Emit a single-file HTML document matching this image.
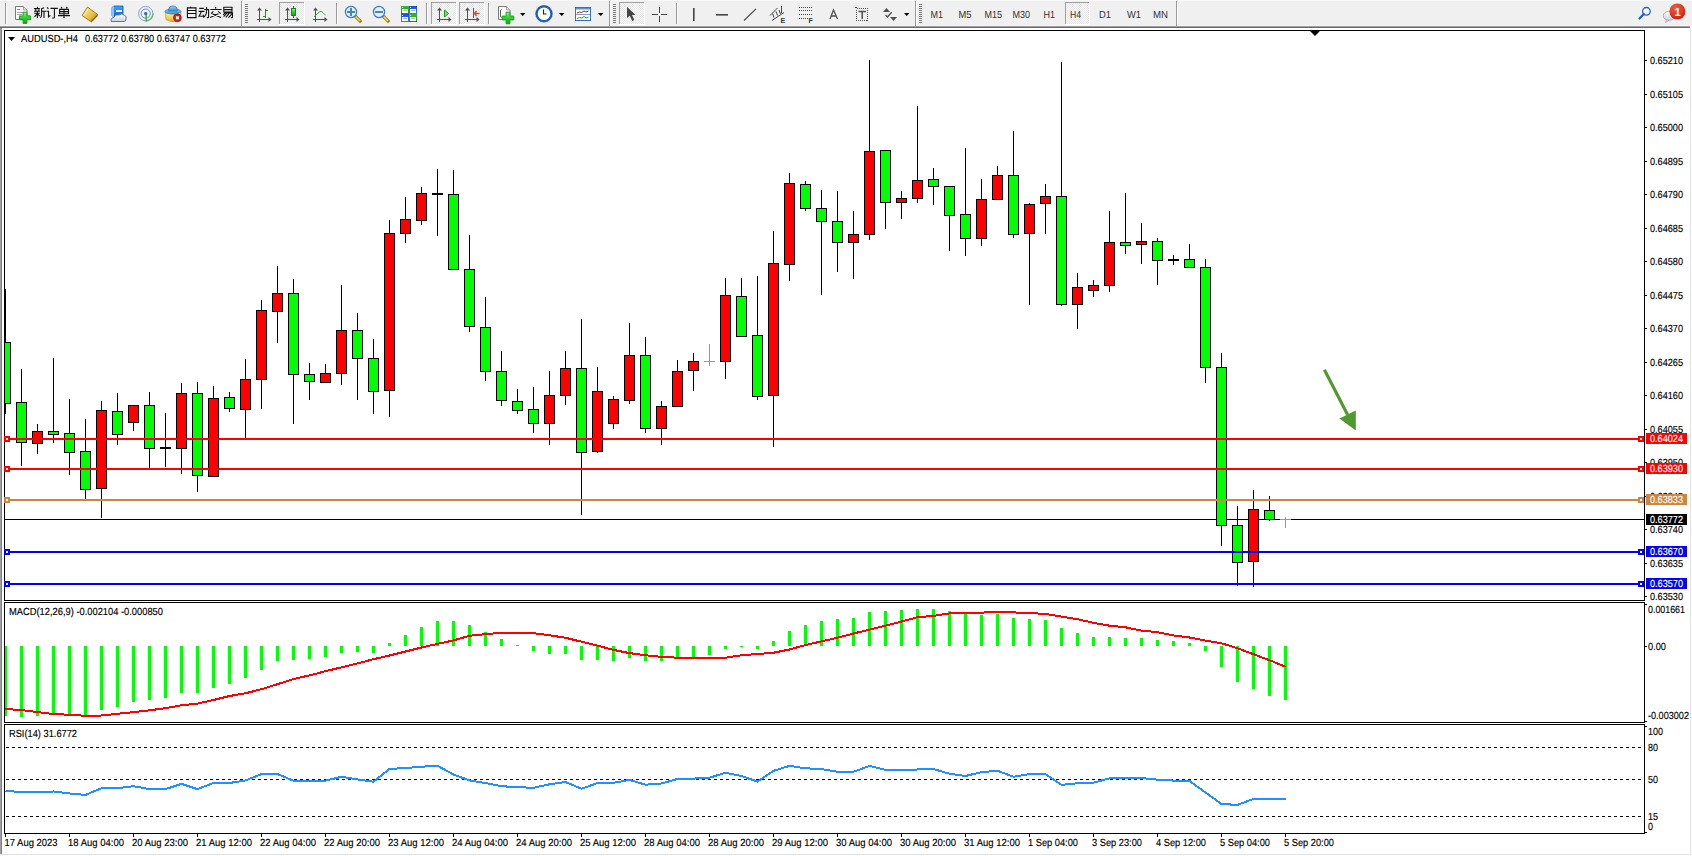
<!DOCTYPE html>
<html><head><meta charset="utf-8"><title>MT4 AUDUSD H4</title>
<style>
html,body{margin:0;padding:0;background:#fff;}
body{width:1692px;height:856px;position:relative;overflow:hidden;font-family:"Liberation Sans", sans-serif;}
svg text{font-family:"Liberation Sans", sans-serif;}
</style></head><body>
<svg width="1692" height="856" viewBox="0 0 1692 856" style="position:absolute;left:0;top:0">
<defs><clipPath id="cm"><rect x="5" y="31" width="1639" height="569"/></clipPath><clipPath id="cmacd"><rect x="5" y="603" width="1639" height="119"/></clipPath><clipPath id="crsi"><rect x="5" y="725" width="1639" height="108"/></clipPath></defs>
<rect x="0" y="0" width="1692" height="856" fill="#ffffff"/>
<rect x="0" y="0" width="1692" height="26" fill="#f0f0f0"/>
<rect x="0" y="0" width="1692" height="1" fill="#f8f8f8"/>
<rect x="0" y="25" width="1692" height="1" fill="#f4f4f4"/>
<rect x="0" y="26" width="1690" height="1" fill="#a0a0a0"/>
<rect x="0" y="27" width="1690" height="1" fill="#696969"/>
<rect x="0" y="28" width="1" height="826" fill="#a0a0a0"/>
<rect x="1" y="28" width="1" height="826" fill="#808080"/>
<rect x="1690" y="28" width="1" height="827" fill="#e3e3e3"/>
<rect x="0" y="854" width="1691" height="1" fill="#e3e3e3"/>
<g shape-rendering="crispEdges">
<rect x="4.5" y="30.5" width="1640" height="570" fill="none" stroke="#000" stroke-width="1"/>
<rect x="4.5" y="602.5" width="1640" height="120" fill="none" stroke="#000" stroke-width="1"/>
<rect x="4.5" y="724.5" width="1640" height="109" fill="none" stroke="#000" stroke-width="1"/>
<g clip-path="url(#cm)">
<rect x="5" y="519" width="1639" height="1" fill="#000"/>
<rect x="5" y="289" width="1" height="125" fill="#000"/>
<rect x="0" y="342" width="11" height="62" fill="#000"/>
<rect x="1" y="343" width="9" height="60" fill="#00ff00"/>
<rect x="21" y="369" width="1" height="97" fill="#000"/>
<rect x="16" y="402" width="11" height="41" fill="#000"/>
<rect x="17" y="403" width="9" height="39" fill="#00ff00"/>
<rect x="37" y="424" width="1" height="30" fill="#000"/>
<rect x="32" y="431" width="11" height="13" fill="#000"/>
<rect x="33" y="432" width="9" height="11" fill="#ff0000"/>
<rect x="53" y="358" width="1" height="85" fill="#000"/>
<rect x="48" y="431" width="11" height="4" fill="#000"/>
<rect x="49" y="432" width="9" height="2" fill="#00ff00"/>
<rect x="69" y="399" width="1" height="76" fill="#000"/>
<rect x="64" y="433" width="11" height="20" fill="#000"/>
<rect x="65" y="434" width="9" height="18" fill="#00ff00"/>
<rect x="85" y="419" width="1" height="80" fill="#000"/>
<rect x="80" y="451" width="11" height="39" fill="#000"/>
<rect x="81" y="452" width="9" height="37" fill="#00ff00"/>
<rect x="101" y="401" width="1" height="117" fill="#000"/>
<rect x="96" y="410" width="11" height="79" fill="#000"/>
<rect x="97" y="411" width="9" height="77" fill="#ff0000"/>
<rect x="117" y="393" width="1" height="52" fill="#000"/>
<rect x="112" y="411" width="11" height="24" fill="#000"/>
<rect x="113" y="412" width="9" height="22" fill="#00ff00"/>
<rect x="133" y="405" width="1" height="26" fill="#000"/>
<rect x="128" y="405" width="11" height="18" fill="#000"/>
<rect x="129" y="406" width="9" height="16" fill="#ff0000"/>
<rect x="149" y="392" width="1" height="76" fill="#000"/>
<rect x="144" y="405" width="11" height="44" fill="#000"/>
<rect x="145" y="406" width="9" height="42" fill="#00ff00"/>
<rect x="165" y="413" width="1" height="54" fill="#000"/>
<rect x="160" y="447" width="11" height="2" fill="#000"/>
<rect x="181" y="383" width="1" height="91" fill="#000"/>
<rect x="176" y="393" width="11" height="56" fill="#000"/>
<rect x="177" y="394" width="9" height="54" fill="#ff0000"/>
<rect x="197" y="382" width="1" height="110" fill="#000"/>
<rect x="192" y="393" width="11" height="83" fill="#000"/>
<rect x="193" y="394" width="9" height="81" fill="#00ff00"/>
<rect x="213" y="386" width="1" height="91" fill="#000"/>
<rect x="208" y="398" width="11" height="79" fill="#000"/>
<rect x="209" y="399" width="9" height="77" fill="#ff0000"/>
<rect x="229" y="392" width="1" height="20" fill="#000"/>
<rect x="224" y="397" width="11" height="12" fill="#000"/>
<rect x="225" y="398" width="9" height="10" fill="#00ff00"/>
<rect x="245" y="359" width="1" height="79" fill="#000"/>
<rect x="240" y="379" width="11" height="31" fill="#000"/>
<rect x="241" y="380" width="9" height="29" fill="#ff0000"/>
<rect x="261" y="300" width="1" height="109" fill="#000"/>
<rect x="256" y="310" width="11" height="70" fill="#000"/>
<rect x="257" y="311" width="9" height="68" fill="#ff0000"/>
<rect x="277" y="266" width="1" height="77" fill="#000"/>
<rect x="272" y="293" width="11" height="19" fill="#000"/>
<rect x="273" y="294" width="9" height="17" fill="#ff0000"/>
<rect x="293" y="279" width="1" height="145" fill="#000"/>
<rect x="288" y="293" width="11" height="82" fill="#000"/>
<rect x="289" y="294" width="9" height="80" fill="#00ff00"/>
<rect x="309" y="363" width="1" height="37" fill="#000"/>
<rect x="304" y="374" width="11" height="8" fill="#000"/>
<rect x="305" y="375" width="9" height="6" fill="#00ff00"/>
<rect x="325" y="364" width="1" height="19" fill="#000"/>
<rect x="320" y="373" width="11" height="10" fill="#000"/>
<rect x="321" y="374" width="9" height="8" fill="#ff0000"/>
<rect x="341" y="285" width="1" height="100" fill="#000"/>
<rect x="336" y="330" width="11" height="44" fill="#000"/>
<rect x="337" y="331" width="9" height="42" fill="#ff0000"/>
<rect x="357" y="313" width="1" height="87" fill="#000"/>
<rect x="352" y="330" width="11" height="29" fill="#000"/>
<rect x="353" y="331" width="9" height="27" fill="#00ff00"/>
<rect x="373" y="339" width="1" height="75" fill="#000"/>
<rect x="368" y="358" width="11" height="34" fill="#000"/>
<rect x="369" y="359" width="9" height="32" fill="#00ff00"/>
<rect x="389" y="220" width="1" height="197" fill="#000"/>
<rect x="384" y="233" width="11" height="158" fill="#000"/>
<rect x="385" y="234" width="9" height="156" fill="#ff0000"/>
<rect x="405" y="197" width="1" height="46" fill="#000"/>
<rect x="400" y="219" width="11" height="15" fill="#000"/>
<rect x="401" y="220" width="9" height="13" fill="#ff0000"/>
<rect x="421" y="187" width="1" height="38" fill="#000"/>
<rect x="416" y="193" width="11" height="28" fill="#000"/>
<rect x="417" y="194" width="9" height="26" fill="#ff0000"/>
<rect x="437" y="169" width="1" height="67" fill="#000"/>
<rect x="432" y="193" width="11" height="2" fill="#000"/>
<rect x="453" y="170" width="1" height="100" fill="#000"/>
<rect x="448" y="194" width="11" height="76" fill="#000"/>
<rect x="449" y="195" width="9" height="74" fill="#00ff00"/>
<rect x="469" y="235" width="1" height="97" fill="#000"/>
<rect x="464" y="269" width="11" height="58" fill="#000"/>
<rect x="465" y="270" width="9" height="56" fill="#00ff00"/>
<rect x="485" y="297" width="1" height="84" fill="#000"/>
<rect x="480" y="327" width="11" height="45" fill="#000"/>
<rect x="481" y="328" width="9" height="43" fill="#00ff00"/>
<rect x="501" y="351" width="1" height="55" fill="#000"/>
<rect x="496" y="371" width="11" height="30" fill="#000"/>
<rect x="497" y="372" width="9" height="28" fill="#00ff00"/>
<rect x="517" y="389" width="1" height="25" fill="#000"/>
<rect x="512" y="401" width="11" height="10" fill="#000"/>
<rect x="513" y="402" width="9" height="8" fill="#00ff00"/>
<rect x="533" y="387" width="1" height="46" fill="#000"/>
<rect x="528" y="409" width="11" height="15" fill="#000"/>
<rect x="529" y="410" width="9" height="13" fill="#00ff00"/>
<rect x="549" y="371" width="1" height="74" fill="#000"/>
<rect x="544" y="395" width="11" height="29" fill="#000"/>
<rect x="545" y="396" width="9" height="27" fill="#ff0000"/>
<rect x="565" y="351" width="1" height="54" fill="#000"/>
<rect x="560" y="368" width="11" height="28" fill="#000"/>
<rect x="561" y="369" width="9" height="26" fill="#ff0000"/>
<rect x="581" y="319" width="1" height="196" fill="#000"/>
<rect x="576" y="368" width="11" height="85" fill="#000"/>
<rect x="577" y="369" width="9" height="83" fill="#00ff00"/>
<rect x="597" y="367" width="1" height="86" fill="#000"/>
<rect x="592" y="391" width="11" height="61" fill="#000"/>
<rect x="593" y="392" width="9" height="59" fill="#ff0000"/>
<rect x="613" y="396" width="1" height="33" fill="#000"/>
<rect x="608" y="399" width="11" height="25" fill="#000"/>
<rect x="609" y="400" width="9" height="23" fill="#ff0000"/>
<rect x="629" y="323" width="1" height="81" fill="#000"/>
<rect x="624" y="355" width="11" height="46" fill="#000"/>
<rect x="625" y="356" width="9" height="44" fill="#ff0000"/>
<rect x="645" y="337" width="1" height="96" fill="#000"/>
<rect x="640" y="355" width="11" height="74" fill="#000"/>
<rect x="641" y="356" width="9" height="72" fill="#00ff00"/>
<rect x="661" y="401" width="1" height="44" fill="#000"/>
<rect x="656" y="406" width="11" height="23" fill="#000"/>
<rect x="657" y="407" width="9" height="21" fill="#ff0000"/>
<rect x="677" y="360" width="1" height="47" fill="#000"/>
<rect x="672" y="371" width="11" height="36" fill="#000"/>
<rect x="673" y="372" width="9" height="34" fill="#ff0000"/>
<rect x="693" y="353" width="1" height="38" fill="#000"/>
<rect x="688" y="361" width="11" height="10" fill="#000"/>
<rect x="689" y="362" width="9" height="8" fill="#ff0000"/>
<rect x="709" y="344" width="1" height="22" fill="#00ff00"/>
<rect x="704" y="361" width="11" height="1" fill="#00ff00"/>
<rect x="725" y="278" width="1" height="101" fill="#000"/>
<rect x="720" y="295" width="11" height="67" fill="#000"/>
<rect x="721" y="296" width="9" height="65" fill="#ff0000"/>
<rect x="741" y="278" width="1" height="59" fill="#000"/>
<rect x="736" y="296" width="11" height="41" fill="#000"/>
<rect x="737" y="297" width="9" height="39" fill="#00ff00"/>
<rect x="757" y="276" width="1" height="124" fill="#000"/>
<rect x="752" y="335" width="11" height="62" fill="#000"/>
<rect x="753" y="336" width="9" height="60" fill="#00ff00"/>
<rect x="773" y="231" width="1" height="216" fill="#000"/>
<rect x="768" y="263" width="11" height="133" fill="#000"/>
<rect x="769" y="264" width="9" height="131" fill="#ff0000"/>
<rect x="789" y="173" width="1" height="108" fill="#000"/>
<rect x="784" y="183" width="11" height="82" fill="#000"/>
<rect x="785" y="184" width="9" height="80" fill="#ff0000"/>
<rect x="805" y="181" width="1" height="30" fill="#000"/>
<rect x="800" y="184" width="11" height="25" fill="#000"/>
<rect x="801" y="185" width="9" height="23" fill="#00ff00"/>
<rect x="821" y="190" width="1" height="105" fill="#000"/>
<rect x="816" y="208" width="11" height="14" fill="#000"/>
<rect x="817" y="209" width="9" height="12" fill="#00ff00"/>
<rect x="837" y="191" width="1" height="81" fill="#000"/>
<rect x="832" y="221" width="11" height="22" fill="#000"/>
<rect x="833" y="222" width="9" height="20" fill="#00ff00"/>
<rect x="853" y="211" width="1" height="68" fill="#000"/>
<rect x="848" y="234" width="11" height="9" fill="#000"/>
<rect x="849" y="235" width="9" height="7" fill="#ff0000"/>
<rect x="869" y="60" width="1" height="180" fill="#000"/>
<rect x="864" y="151" width="11" height="84" fill="#000"/>
<rect x="865" y="152" width="9" height="82" fill="#ff0000"/>
<rect x="885" y="150" width="1" height="79" fill="#000"/>
<rect x="880" y="150" width="11" height="53" fill="#000"/>
<rect x="881" y="151" width="9" height="51" fill="#00ff00"/>
<rect x="901" y="191" width="1" height="28" fill="#000"/>
<rect x="896" y="198" width="11" height="5" fill="#000"/>
<rect x="897" y="199" width="9" height="3" fill="#ff0000"/>
<rect x="917" y="106" width="1" height="97" fill="#000"/>
<rect x="912" y="180" width="11" height="19" fill="#000"/>
<rect x="913" y="181" width="9" height="17" fill="#ff0000"/>
<rect x="933" y="168" width="1" height="37" fill="#000"/>
<rect x="928" y="179" width="11" height="8" fill="#000"/>
<rect x="929" y="180" width="9" height="6" fill="#00ff00"/>
<rect x="949" y="186" width="1" height="65" fill="#000"/>
<rect x="944" y="186" width="11" height="30" fill="#000"/>
<rect x="945" y="187" width="9" height="28" fill="#00ff00"/>
<rect x="965" y="148" width="1" height="108" fill="#000"/>
<rect x="960" y="214" width="11" height="25" fill="#000"/>
<rect x="961" y="215" width="9" height="23" fill="#00ff00"/>
<rect x="981" y="179" width="1" height="67" fill="#000"/>
<rect x="976" y="199" width="11" height="40" fill="#000"/>
<rect x="977" y="200" width="9" height="38" fill="#ff0000"/>
<rect x="997" y="166" width="1" height="34" fill="#000"/>
<rect x="992" y="175" width="11" height="25" fill="#000"/>
<rect x="993" y="176" width="9" height="23" fill="#ff0000"/>
<rect x="1013" y="131" width="1" height="107" fill="#000"/>
<rect x="1008" y="175" width="11" height="60" fill="#000"/>
<rect x="1009" y="176" width="9" height="58" fill="#00ff00"/>
<rect x="1029" y="203" width="1" height="102" fill="#000"/>
<rect x="1024" y="204" width="11" height="30" fill="#000"/>
<rect x="1025" y="205" width="9" height="28" fill="#ff0000"/>
<rect x="1045" y="184" width="1" height="50" fill="#000"/>
<rect x="1040" y="196" width="11" height="8" fill="#000"/>
<rect x="1041" y="197" width="9" height="6" fill="#ff0000"/>
<rect x="1061" y="62" width="1" height="244" fill="#000"/>
<rect x="1056" y="196" width="11" height="109" fill="#000"/>
<rect x="1057" y="197" width="9" height="107" fill="#00ff00"/>
<rect x="1077" y="273" width="1" height="56" fill="#000"/>
<rect x="1072" y="287" width="11" height="18" fill="#000"/>
<rect x="1073" y="288" width="9" height="16" fill="#ff0000"/>
<rect x="1093" y="280" width="1" height="17" fill="#000"/>
<rect x="1088" y="285" width="11" height="6" fill="#000"/>
<rect x="1089" y="286" width="9" height="4" fill="#ff0000"/>
<rect x="1109" y="211" width="1" height="81" fill="#000"/>
<rect x="1104" y="242" width="11" height="44" fill="#000"/>
<rect x="1105" y="243" width="9" height="42" fill="#ff0000"/>
<rect x="1125" y="193" width="1" height="61" fill="#000"/>
<rect x="1120" y="242" width="11" height="4" fill="#000"/>
<rect x="1121" y="243" width="9" height="2" fill="#00ff00"/>
<rect x="1141" y="223" width="1" height="41" fill="#000"/>
<rect x="1136" y="241" width="11" height="4" fill="#000"/>
<rect x="1137" y="242" width="9" height="2" fill="#ff0000"/>
<rect x="1157" y="238" width="1" height="47" fill="#000"/>
<rect x="1152" y="241" width="11" height="20" fill="#000"/>
<rect x="1153" y="242" width="9" height="18" fill="#00ff00"/>
<rect x="1173" y="255" width="1" height="10" fill="#000"/>
<rect x="1168" y="259" width="11" height="2" fill="#000"/>
<rect x="1189" y="244" width="1" height="24" fill="#000"/>
<rect x="1184" y="259" width="11" height="9" fill="#000"/>
<rect x="1185" y="260" width="9" height="7" fill="#00ff00"/>
<rect x="1205" y="259" width="1" height="124" fill="#000"/>
<rect x="1200" y="267" width="11" height="101" fill="#000"/>
<rect x="1201" y="268" width="9" height="99" fill="#00ff00"/>
<rect x="1221" y="353" width="1" height="193" fill="#000"/>
<rect x="1216" y="367" width="11" height="159" fill="#000"/>
<rect x="1217" y="368" width="9" height="157" fill="#00ff00"/>
<rect x="1237" y="506" width="1" height="80" fill="#000"/>
<rect x="1232" y="525" width="11" height="38" fill="#000"/>
<rect x="1233" y="526" width="9" height="36" fill="#00ff00"/>
<rect x="1253" y="490" width="1" height="97" fill="#000"/>
<rect x="1248" y="509" width="11" height="53" fill="#000"/>
<rect x="1249" y="510" width="9" height="51" fill="#ff0000"/>
<rect x="1269" y="496" width="1" height="25" fill="#000"/>
<rect x="1264" y="510" width="11" height="10" fill="#000"/>
<rect x="1265" y="511" width="9" height="8" fill="#00ff00"/>
<rect x="1285" y="517" width="1" height="11" fill="#00ff00"/>
<rect x="1280" y="519" width="11" height="1" fill="#00ff00"/>
<rect x="5" y="438" width="1639" height="2" fill="#ff0000"/>
<rect x="1638" y="436" width="6" height="6" fill="#ff0000"/><rect x="1640" y="438" width="2" height="2" fill="#fff"/>
<rect x="5" y="468" width="1639" height="2" fill="#ff0000"/>
<rect x="1638" y="466" width="6" height="6" fill="#ff0000"/><rect x="1640" y="468" width="2" height="2" fill="#fff"/>
<rect x="5" y="499" width="1639" height="2" fill="#cd853f"/>
<rect x="1638" y="497" width="6" height="6" fill="#cd853f"/><rect x="1640" y="499" width="2" height="2" fill="#fff"/>
<rect x="5" y="551" width="1639" height="2" fill="#0000ff"/>
<rect x="1638" y="549" width="6" height="6" fill="#0000ff"/><rect x="1640" y="551" width="2" height="2" fill="#fff"/>
<rect x="5" y="583" width="1639" height="2" fill="#0000ff"/>
<rect x="1638" y="581" width="6" height="6" fill="#0000ff"/><rect x="1640" y="583" width="2" height="2" fill="#fff"/>
</g>
<path d="M1310 31 L1320 31 L1315 36 Z" fill="#000" shape-rendering="auto"/>
<rect x="4" y="436" width="6" height="6" fill="#ff0000"/><rect x="6" y="438" width="2" height="2" fill="#fff"/>
<rect x="4" y="466" width="6" height="6" fill="#ff0000"/><rect x="6" y="468" width="2" height="2" fill="#fff"/>
<rect x="4" y="497" width="6" height="6" fill="#cd853f"/><rect x="6" y="499" width="2" height="2" fill="#fff"/>
<rect x="4" y="549" width="6" height="6" fill="#0000ff"/><rect x="6" y="551" width="2" height="2" fill="#fff"/>
<rect x="4" y="581" width="6" height="6" fill="#0000ff"/><rect x="6" y="583" width="2" height="2" fill="#fff"/>
</g>
<g fill="#4e9a2e" stroke="none"><path d="M1323 370.5 L1325.8 369 L1349 414 L1346.2 415.5 Z"/><path d="M1339.5 418.5 L1355.8 410.5 L1355.8 430.5 Z"/></g>
<g shape-rendering="crispEdges" clip-path="url(#cmacd)">
<rect x="4" y="646" width="3" height="70" fill="#00ff00"/>
<rect x="20" y="646" width="3" height="71" fill="#00ff00"/>
<rect x="36" y="646" width="3" height="70" fill="#00ff00"/>
<rect x="52" y="646" width="3" height="68" fill="#00ff00"/>
<rect x="68" y="646" width="3" height="68" fill="#00ff00"/>
<rect x="84" y="646" width="3" height="69" fill="#00ff00"/>
<rect x="100" y="646" width="3" height="64" fill="#00ff00"/>
<rect x="116" y="646" width="3" height="61" fill="#00ff00"/>
<rect x="132" y="646" width="3" height="56" fill="#00ff00"/>
<rect x="148" y="646" width="3" height="54" fill="#00ff00"/>
<rect x="164" y="646" width="3" height="52" fill="#00ff00"/>
<rect x="180" y="646" width="3" height="47" fill="#00ff00"/>
<rect x="196" y="646" width="3" height="47" fill="#00ff00"/>
<rect x="212" y="646" width="3" height="42" fill="#00ff00"/>
<rect x="228" y="646" width="3" height="38" fill="#00ff00"/>
<rect x="244" y="646" width="3" height="32" fill="#00ff00"/>
<rect x="260" y="646" width="3" height="24" fill="#00ff00"/>
<rect x="276" y="646" width="3" height="15" fill="#00ff00"/>
<rect x="292" y="646" width="3" height="14" fill="#00ff00"/>
<rect x="308" y="646" width="3" height="13" fill="#00ff00"/>
<rect x="324" y="646" width="3" height="11" fill="#00ff00"/>
<rect x="340" y="646" width="3" height="7" fill="#00ff00"/>
<rect x="356" y="646" width="3" height="6" fill="#00ff00"/>
<rect x="372" y="646" width="3" height="7" fill="#00ff00"/>
<rect x="388" y="643" width="3" height="3" fill="#00ff00"/>
<rect x="404" y="635" width="3" height="11" fill="#00ff00"/>
<rect x="420" y="627" width="3" height="19" fill="#00ff00"/>
<rect x="436" y="621" width="3" height="25" fill="#00ff00"/>
<rect x="452" y="621" width="3" height="25" fill="#00ff00"/>
<rect x="468" y="625" width="3" height="21" fill="#00ff00"/>
<rect x="484" y="632" width="3" height="14" fill="#00ff00"/>
<rect x="500" y="639" width="3" height="7" fill="#00ff00"/>
<rect x="516" y="645" width="3" height="1" fill="#00ff00"/>
<rect x="532" y="646" width="3" height="5" fill="#00ff00"/>
<rect x="548" y="646" width="3" height="8" fill="#00ff00"/>
<rect x="564" y="646" width="3" height="8" fill="#00ff00"/>
<rect x="580" y="646" width="3" height="14" fill="#00ff00"/>
<rect x="596" y="646" width="3" height="14" fill="#00ff00"/>
<rect x="612" y="646" width="3" height="15" fill="#00ff00"/>
<rect x="628" y="646" width="3" height="12" fill="#00ff00"/>
<rect x="644" y="646" width="3" height="15" fill="#00ff00"/>
<rect x="660" y="646" width="3" height="15" fill="#00ff00"/>
<rect x="676" y="646" width="3" height="11" fill="#00ff00"/>
<rect x="692" y="646" width="3" height="11" fill="#00ff00"/>
<rect x="708" y="646" width="3" height="9" fill="#00ff00"/>
<rect x="724" y="646" width="3" height="3" fill="#00ff00"/>
<rect x="740" y="646" width="3" height="1" fill="#00ff00"/>
<rect x="756" y="646" width="3" height="3" fill="#00ff00"/>
<rect x="772" y="641" width="3" height="5" fill="#00ff00"/>
<rect x="788" y="631" width="3" height="15" fill="#00ff00"/>
<rect x="804" y="625" width="3" height="21" fill="#00ff00"/>
<rect x="820" y="621" width="3" height="25" fill="#00ff00"/>
<rect x="836" y="619" width="3" height="27" fill="#00ff00"/>
<rect x="852" y="618" width="3" height="28" fill="#00ff00"/>
<rect x="868" y="612" width="3" height="34" fill="#00ff00"/>
<rect x="884" y="611" width="3" height="35" fill="#00ff00"/>
<rect x="900" y="610" width="3" height="36" fill="#00ff00"/>
<rect x="916" y="609" width="3" height="37" fill="#00ff00"/>
<rect x="932" y="609" width="3" height="37" fill="#00ff00"/>
<rect x="948" y="611" width="3" height="35" fill="#00ff00"/>
<rect x="964" y="613" width="3" height="33" fill="#00ff00"/>
<rect x="980" y="615" width="3" height="31" fill="#00ff00"/>
<rect x="996" y="614" width="3" height="32" fill="#00ff00"/>
<rect x="1012" y="618" width="3" height="28" fill="#00ff00"/>
<rect x="1028" y="619" width="3" height="27" fill="#00ff00"/>
<rect x="1044" y="620" width="3" height="26" fill="#00ff00"/>
<rect x="1060" y="628" width="3" height="18" fill="#00ff00"/>
<rect x="1076" y="633" width="3" height="13" fill="#00ff00"/>
<rect x="1092" y="637" width="3" height="9" fill="#00ff00"/>
<rect x="1108" y="637" width="3" height="9" fill="#00ff00"/>
<rect x="1124" y="638" width="3" height="8" fill="#00ff00"/>
<rect x="1140" y="638" width="3" height="8" fill="#00ff00"/>
<rect x="1156" y="640" width="3" height="6" fill="#00ff00"/>
<rect x="1172" y="641" width="3" height="5" fill="#00ff00"/>
<rect x="1188" y="643" width="3" height="3" fill="#00ff00"/>
<rect x="1204" y="646" width="3" height="5" fill="#00ff00"/>
<rect x="1220" y="646" width="3" height="21" fill="#00ff00"/>
<rect x="1236" y="646" width="3" height="36" fill="#00ff00"/>
<rect x="1252" y="646" width="3" height="43" fill="#00ff00"/>
<rect x="1268" y="646" width="3" height="50" fill="#00ff00"/>
<rect x="1284" y="646" width="3" height="54" fill="#00ff00"/>
<polyline points="0,708.7 5.5,709.0 21.5,710.1 37.5,712.1 53.5,714.0 69.5,714.8 85.5,715.8 101.5,715.5 117.5,713.8 133.5,712.1 149.5,710.3 165.5,708.2 181.5,705.3 197.5,703.6 213.5,700.0 229.5,696.0 245.5,693.3 261.5,689.2 277.5,684.2 293.5,679.0 309.5,675.4 325.5,671.2 341.5,667.3 357.5,663.4 373.5,659.2 389.5,655.5 405.5,651.5 421.5,647.5 437.5,643.9 453.5,640.4 469.5,635.8 485.5,634.1 501.5,632.9 517.5,632.9 533.5,633.2 549.5,635.2 565.5,637.8 581.5,641.7 597.5,645.6 613.5,649.9 629.5,653.1 645.5,655.3 661.5,656.9 677.5,657.7 693.5,657.7 709.5,657.7 725.5,657.7 741.5,655.3 757.5,654.0 773.5,652.7 789.5,649.5 805.5,645.0 821.5,641.4 837.5,637.7 853.5,633.5 869.5,629.6 885.5,625.7 901.5,621.5 917.5,617.2 933.5,615.9 949.5,613.4 965.5,612.7 981.5,612.6 997.5,612.0 1013.5,612.4 1029.5,613.0 1045.5,614.0 1061.5,616.6 1077.5,619.2 1093.5,622.8 1109.5,625.7 1125.5,627.3 1141.5,630.6 1157.5,632.2 1173.5,635.4 1189.5,637.5 1205.5,640.6 1221.5,643.3 1237.5,648.2 1253.5,654.2 1269.5,660.2 1285.5,666.7" fill="none" stroke="#ff0000" stroke-width="2"/>
</g>
<g shape-rendering="crispEdges" clip-path="url(#crsi)">
<line x1="6" y1="747.5" x2="1644" y2="747.5" stroke="#000" stroke-width="1" stroke-dasharray="3 3"/>
<line x1="6" y1="779.5" x2="1644" y2="779.5" stroke="#000" stroke-width="1" stroke-dasharray="3 3"/>
<line x1="6" y1="816.5" x2="1644" y2="816.5" stroke="#000" stroke-width="1" stroke-dasharray="3 3"/>
<polyline points="5.5,790.9 21.5,792.1 37.5,791.8 53.5,791.5 69.5,793.5 85.5,794.9 101.5,788.2 117.5,788.2 133.5,786.2 149.5,789.1 165.5,789.1 181.5,783.9 197.5,789.1 213.5,782.9 229.5,783.0 245.5,780.4 261.5,774.1 277.5,774.1 293.5,780.7 309.5,780.7 325.5,780.7 341.5,776.8 357.5,779.4 373.5,781.7 389.5,769.0 405.5,768.0 421.5,766.7 437.5,765.8 453.5,774.5 469.5,780.4 485.5,783.0 501.5,786.2 517.5,787.2 533.5,787.8 549.5,784.3 565.5,782.0 581.5,788.8 597.5,783.0 613.5,782.8 629.5,779.9 645.5,784.7 661.5,783.5 677.5,778.9 693.5,778.6 709.5,777.7 725.5,772.8 741.5,776.0 757.5,781.6 773.5,770.8 789.5,765.9 805.5,768.3 821.5,769.1 837.5,771.8 853.5,771.8 869.5,765.9 885.5,769.9 901.5,769.9 917.5,769.5 933.5,769.1 949.5,773.7 965.5,776.0 981.5,772.1 997.5,770.8 1013.5,776.7 1029.5,774.1 1045.5,774.1 1061.5,784.9 1077.5,783.3 1093.5,782.7 1109.5,778.4 1125.5,778.0 1141.5,778.0 1157.5,779.7 1173.5,780.6 1189.5,781.0 1205.5,792.5 1221.5,804.0 1237.5,804.9 1253.5,798.9 1269.5,798.9 1285.5,798.9" fill="none" stroke="#1e90ff" stroke-width="2"/>
</g>
<g font-family='"Liberation Sans", sans-serif'>
<rect x="1645" y="60" width="2" height="1" fill="#000"/>
<rect x="1645" y="94" width="2" height="1" fill="#000"/>
<rect x="1645" y="127" width="2" height="1" fill="#000"/>
<rect x="1645" y="161" width="2" height="1" fill="#000"/>
<rect x="1645" y="194" width="2" height="1" fill="#000"/>
<rect x="1645" y="228" width="2" height="1" fill="#000"/>
<rect x="1645" y="261" width="2" height="1" fill="#000"/>
<rect x="1645" y="295" width="2" height="1" fill="#000"/>
<rect x="1645" y="328" width="2" height="1" fill="#000"/>
<rect x="1645" y="362" width="2" height="1" fill="#000"/>
<rect x="1645" y="395" width="2" height="1" fill="#000"/>
<rect x="1645" y="429" width="2" height="1" fill="#000"/>
<rect x="1645" y="462" width="2" height="1" fill="#000"/>
<rect x="1645" y="496" width="2" height="1" fill="#000"/>
<rect x="1645" y="529" width="2" height="1" fill="#000"/>
<rect x="1645" y="563" width="2" height="1" fill="#000"/>
<rect x="1645" y="596" width="2" height="1" fill="#000"/>
<text x="1650" y="64" font-size="10.25" fill="#000" stroke="#000" stroke-width="0.15" textLength="33" lengthAdjust="spacingAndGlyphs" text-rendering="geometricPrecision">0.65210</text>
<text x="1650" y="98" font-size="10.25" fill="#000" stroke="#000" stroke-width="0.15" textLength="33" lengthAdjust="spacingAndGlyphs" text-rendering="geometricPrecision">0.65105</text>
<text x="1650" y="131" font-size="10.25" fill="#000" stroke="#000" stroke-width="0.15" textLength="33" lengthAdjust="spacingAndGlyphs" text-rendering="geometricPrecision">0.65000</text>
<text x="1650" y="165" font-size="10.25" fill="#000" stroke="#000" stroke-width="0.15" textLength="33" lengthAdjust="spacingAndGlyphs" text-rendering="geometricPrecision">0.64895</text>
<text x="1650" y="198" font-size="10.25" fill="#000" stroke="#000" stroke-width="0.15" textLength="33" lengthAdjust="spacingAndGlyphs" text-rendering="geometricPrecision">0.64790</text>
<text x="1650" y="232" font-size="10.25" fill="#000" stroke="#000" stroke-width="0.15" textLength="33" lengthAdjust="spacingAndGlyphs" text-rendering="geometricPrecision">0.64685</text>
<text x="1650" y="265" font-size="10.25" fill="#000" stroke="#000" stroke-width="0.15" textLength="33" lengthAdjust="spacingAndGlyphs" text-rendering="geometricPrecision">0.64580</text>
<text x="1650" y="299" font-size="10.25" fill="#000" stroke="#000" stroke-width="0.15" textLength="33" lengthAdjust="spacingAndGlyphs" text-rendering="geometricPrecision">0.64475</text>
<text x="1650" y="332" font-size="10.25" fill="#000" stroke="#000" stroke-width="0.15" textLength="33" lengthAdjust="spacingAndGlyphs" text-rendering="geometricPrecision">0.64370</text>
<text x="1650" y="366" font-size="10.25" fill="#000" stroke="#000" stroke-width="0.15" textLength="33" lengthAdjust="spacingAndGlyphs" text-rendering="geometricPrecision">0.64265</text>
<text x="1650" y="399" font-size="10.25" fill="#000" stroke="#000" stroke-width="0.15" textLength="33" lengthAdjust="spacingAndGlyphs" text-rendering="geometricPrecision">0.64160</text>
<text x="1650" y="433" font-size="10.25" fill="#000" stroke="#000" stroke-width="0.15" textLength="33" lengthAdjust="spacingAndGlyphs" text-rendering="geometricPrecision">0.64055</text>
<text x="1650" y="466" font-size="10.25" fill="#000" stroke="#000" stroke-width="0.15" textLength="33" lengthAdjust="spacingAndGlyphs" text-rendering="geometricPrecision">0.63950</text>
<text x="1650" y="500" font-size="10.25" fill="#000" stroke="#000" stroke-width="0.15" textLength="33" lengthAdjust="spacingAndGlyphs" text-rendering="geometricPrecision">0.63845</text>
<text x="1650" y="533" font-size="10.25" fill="#000" stroke="#000" stroke-width="0.15" textLength="33" lengthAdjust="spacingAndGlyphs" text-rendering="geometricPrecision">0.63740</text>
<text x="1650" y="567" font-size="10.25" fill="#000" stroke="#000" stroke-width="0.15" textLength="33" lengthAdjust="spacingAndGlyphs" text-rendering="geometricPrecision">0.63635</text>
<text x="1650" y="600" font-size="10.25" fill="#000" stroke="#000" stroke-width="0.15" textLength="33" lengthAdjust="spacingAndGlyphs" text-rendering="geometricPrecision">0.63530</text>
<rect x="1646" y="433" width="41" height="11" fill="#ff0000"/>
<rect x="1646" y="463" width="41" height="11" fill="#ff0000"/>
<rect x="1646" y="494" width="41" height="11" fill="#cd853f"/>
<rect x="1646" y="514" width="41" height="11" fill="#000000"/>
<rect x="1646" y="546" width="41" height="11" fill="#0000ff"/>
<rect x="1646" y="578" width="41" height="11" fill="#0000ff"/>
<text x="1650" y="442" font-size="10.25" fill="#fff" stroke="#fff" stroke-width="0.15" textLength="33" lengthAdjust="spacingAndGlyphs" text-rendering="geometricPrecision">0.64024</text>
<text x="1650" y="472" font-size="10.25" fill="#fff" stroke="#fff" stroke-width="0.15" textLength="33" lengthAdjust="spacingAndGlyphs" text-rendering="geometricPrecision">0.63930</text>
<text x="1650" y="503" font-size="10.25" fill="#fff" stroke="#fff" stroke-width="0.15" textLength="33" lengthAdjust="spacingAndGlyphs" text-rendering="geometricPrecision">0.63833</text>
<text x="1650" y="523" font-size="10.25" fill="#fff" stroke="#fff" stroke-width="0.15" textLength="33" lengthAdjust="spacingAndGlyphs" text-rendering="geometricPrecision">0.63772</text>
<text x="1650" y="555" font-size="10.25" fill="#fff" stroke="#fff" stroke-width="0.15" textLength="33" lengthAdjust="spacingAndGlyphs" text-rendering="geometricPrecision">0.63670</text>
<text x="1650" y="587" font-size="10.25" fill="#fff" stroke="#fff" stroke-width="0.15" textLength="33" lengthAdjust="spacingAndGlyphs" text-rendering="geometricPrecision">0.63570</text>
<rect x="1645" y="604" width="2" height="1" fill="#000"/>
<rect x="1645" y="646" width="2" height="1" fill="#000"/>
<rect x="1645" y="721" width="2" height="1" fill="#000"/>
<rect x="1645" y="726" width="2" height="1" fill="#000"/>
<rect x="1645" y="832" width="2" height="1" fill="#000"/>
<path d="M8 37 L15 37 L11.5 41 Z" fill="#000"/>
<rect x="5" y="834" width="1" height="3" fill="#000"/>
<rect x="69" y="834" width="1" height="3" fill="#000"/>
<rect x="133" y="834" width="1" height="3" fill="#000"/>
<rect x="197" y="834" width="1" height="3" fill="#000"/>
<rect x="261" y="834" width="1" height="3" fill="#000"/>
<rect x="325" y="834" width="1" height="3" fill="#000"/>
<rect x="389" y="834" width="1" height="3" fill="#000"/>
<rect x="453" y="834" width="1" height="3" fill="#000"/>
<rect x="517" y="834" width="1" height="3" fill="#000"/>
<rect x="581" y="834" width="1" height="3" fill="#000"/>
<rect x="645" y="834" width="1" height="3" fill="#000"/>
<rect x="709" y="834" width="1" height="3" fill="#000"/>
<rect x="773" y="834" width="1" height="3" fill="#000"/>
<rect x="837" y="834" width="1" height="3" fill="#000"/>
<rect x="901" y="834" width="1" height="3" fill="#000"/>
<rect x="965" y="834" width="1" height="3" fill="#000"/>
<rect x="1029" y="834" width="1" height="3" fill="#000"/>
<rect x="1093" y="834" width="1" height="3" fill="#000"/>
<rect x="1157" y="834" width="1" height="3" fill="#000"/>
<rect x="1221" y="834" width="1" height="3" fill="#000"/>
<rect x="1285" y="834" width="1" height="3" fill="#000"/>
<text x="1648" y="613" font-size="10.25" fill="#000" stroke="#000" stroke-width="0.15" textLength="37" lengthAdjust="spacingAndGlyphs" text-rendering="geometricPrecision">0.001661</text>
<text x="1648" y="650" font-size="10.25" fill="#000" stroke="#000" stroke-width="0.15" textLength="18" lengthAdjust="spacingAndGlyphs" text-rendering="geometricPrecision">0.00</text>
<text x="1648" y="719" font-size="10.25" fill="#000" stroke="#000" stroke-width="0.15" textLength="41" lengthAdjust="spacingAndGlyphs" text-rendering="geometricPrecision">-0.003002</text>
<text x="1648" y="735" font-size="10.25" fill="#000" stroke="#000" stroke-width="0.15" textLength="15" lengthAdjust="spacingAndGlyphs" text-rendering="geometricPrecision">100</text>
<text x="1648" y="751" font-size="10.25" fill="#000" stroke="#000" stroke-width="0.15" textLength="10" lengthAdjust="spacingAndGlyphs" text-rendering="geometricPrecision">80</text>
<text x="1648" y="783" font-size="10.25" fill="#000" stroke="#000" stroke-width="0.15" textLength="10" lengthAdjust="spacingAndGlyphs" text-rendering="geometricPrecision">50</text>
<text x="1648" y="820" font-size="10.25" fill="#000" stroke="#000" stroke-width="0.15" textLength="10" lengthAdjust="spacingAndGlyphs" text-rendering="geometricPrecision">15</text>
<text x="1648" y="830" font-size="10.25" fill="#000" stroke="#000" stroke-width="0.15" textLength="5" lengthAdjust="spacingAndGlyphs" text-rendering="geometricPrecision">0</text>
<text x="21" y="42" font-size="10.25" fill="#000" stroke="#000" stroke-width="0.15" textLength="57" lengthAdjust="spacingAndGlyphs" text-rendering="geometricPrecision">AUDUSD-,H4</text>
<text x="85" y="42" font-size="10.25" fill="#000" stroke="#000" stroke-width="0.15" textLength="141" lengthAdjust="spacingAndGlyphs" text-rendering="geometricPrecision">0.63772 0.63780 0.63747 0.63772</text>
<text x="9" y="615" font-size="10.25" fill="#000" stroke="#000" stroke-width="0.15" textLength="154" lengthAdjust="spacingAndGlyphs" text-rendering="geometricPrecision">MACD(12,26,9) -0.002104 -0.000850</text>
<text x="9" y="737" font-size="10.25" fill="#000" stroke="#000" stroke-width="0.15" textLength="68" lengthAdjust="spacingAndGlyphs" text-rendering="geometricPrecision">RSI(14) 31.6772</text>
<text x="4.5" y="846" font-size="10.25" fill="#000" stroke="#000" stroke-width="0.15" textLength="53" lengthAdjust="spacingAndGlyphs" text-rendering="geometricPrecision">17 Aug 2023</text>
<text x="68" y="846" font-size="10.25" fill="#000" stroke="#000" stroke-width="0.15" textLength="56" lengthAdjust="spacingAndGlyphs" text-rendering="geometricPrecision">18 Aug 04:00</text>
<text x="132" y="846" font-size="10.25" fill="#000" stroke="#000" stroke-width="0.15" textLength="56" lengthAdjust="spacingAndGlyphs" text-rendering="geometricPrecision">20 Aug 23:00</text>
<text x="196" y="846" font-size="10.25" fill="#000" stroke="#000" stroke-width="0.15" textLength="56" lengthAdjust="spacingAndGlyphs" text-rendering="geometricPrecision">21 Aug 12:00</text>
<text x="260" y="846" font-size="10.25" fill="#000" stroke="#000" stroke-width="0.15" textLength="56" lengthAdjust="spacingAndGlyphs" text-rendering="geometricPrecision">22 Aug 04:00</text>
<text x="324" y="846" font-size="10.25" fill="#000" stroke="#000" stroke-width="0.15" textLength="56" lengthAdjust="spacingAndGlyphs" text-rendering="geometricPrecision">22 Aug 20:00</text>
<text x="388" y="846" font-size="10.25" fill="#000" stroke="#000" stroke-width="0.15" textLength="56" lengthAdjust="spacingAndGlyphs" text-rendering="geometricPrecision">23 Aug 12:00</text>
<text x="452" y="846" font-size="10.25" fill="#000" stroke="#000" stroke-width="0.15" textLength="56" lengthAdjust="spacingAndGlyphs" text-rendering="geometricPrecision">24 Aug 04:00</text>
<text x="516" y="846" font-size="10.25" fill="#000" stroke="#000" stroke-width="0.15" textLength="56" lengthAdjust="spacingAndGlyphs" text-rendering="geometricPrecision">24 Aug 20:00</text>
<text x="580" y="846" font-size="10.25" fill="#000" stroke="#000" stroke-width="0.15" textLength="56" lengthAdjust="spacingAndGlyphs" text-rendering="geometricPrecision">25 Aug 12:00</text>
<text x="644" y="846" font-size="10.25" fill="#000" stroke="#000" stroke-width="0.15" textLength="56" lengthAdjust="spacingAndGlyphs" text-rendering="geometricPrecision">28 Aug 04:00</text>
<text x="708" y="846" font-size="10.25" fill="#000" stroke="#000" stroke-width="0.15" textLength="56" lengthAdjust="spacingAndGlyphs" text-rendering="geometricPrecision">28 Aug 20:00</text>
<text x="772" y="846" font-size="10.25" fill="#000" stroke="#000" stroke-width="0.15" textLength="56" lengthAdjust="spacingAndGlyphs" text-rendering="geometricPrecision">29 Aug 12:00</text>
<text x="836" y="846" font-size="10.25" fill="#000" stroke="#000" stroke-width="0.15" textLength="56" lengthAdjust="spacingAndGlyphs" text-rendering="geometricPrecision">30 Aug 04:00</text>
<text x="900" y="846" font-size="10.25" fill="#000" stroke="#000" stroke-width="0.15" textLength="56" lengthAdjust="spacingAndGlyphs" text-rendering="geometricPrecision">30 Aug 20:00</text>
<text x="964" y="846" font-size="10.25" fill="#000" stroke="#000" stroke-width="0.15" textLength="56" lengthAdjust="spacingAndGlyphs" text-rendering="geometricPrecision">31 Aug 12:00</text>
<text x="1028" y="846" font-size="10.25" fill="#000" stroke="#000" stroke-width="0.15" textLength="50" lengthAdjust="spacingAndGlyphs" text-rendering="geometricPrecision">1 Sep 04:00</text>
<text x="1092" y="846" font-size="10.25" fill="#000" stroke="#000" stroke-width="0.15" textLength="50" lengthAdjust="spacingAndGlyphs" text-rendering="geometricPrecision">3 Sep 23:00</text>
<text x="1156" y="846" font-size="10.25" fill="#000" stroke="#000" stroke-width="0.15" textLength="50" lengthAdjust="spacingAndGlyphs" text-rendering="geometricPrecision">4 Sep 12:00</text>
<text x="1220" y="846" font-size="10.25" fill="#000" stroke="#000" stroke-width="0.15" textLength="50" lengthAdjust="spacingAndGlyphs" text-rendering="geometricPrecision">5 Sep 04:00</text>
<text x="1284" y="846" font-size="10.25" fill="#000" stroke="#000" stroke-width="0.15" textLength="50" lengthAdjust="spacingAndGlyphs" text-rendering="geometricPrecision">5 Sep 20:00</text>
</g>
</svg>
<svg width="1692" height="26" viewBox="0 0 1692 26" style="position:absolute;left:0;top:0">
<defs><pattern id="chk" width="2" height="2" patternUnits="userSpaceOnUse"><rect width="2" height="2" fill="#fbfbfb"/><rect width="1" height="1" fill="#e6e6e6"/><rect x="1" y="1" width="1" height="1" fill="#e6e6e6"/></pattern><linearGradient id="gplus" x1="0" y1="0" x2="0" y2="1"><stop offset="0" stop-color="#8ef08e"/><stop offset="0.5" stop-color="#2fd02f"/><stop offset="1" stop-color="#12a012"/></linearGradient><linearGradient id="gbook" x1="0" y1="0" x2="1" y2="1"><stop offset="0" stop-color="#fff3a0"/><stop offset="0.6" stop-color="#e8c040"/><stop offset="1" stop-color="#b07810"/></linearGradient><linearGradient id="gcloud" x1="0" y1="0" x2="0" y2="1"><stop offset="0" stop-color="#ffffff"/><stop offset="1" stop-color="#c8d0e0"/></linearGradient><linearGradient id="gblue" x1="0" y1="0" x2="0" y2="1"><stop offset="0" stop-color="#40a8ff"/><stop offset="1" stop-color="#1060d0"/></linearGradient><linearGradient id="ghat" x1="0" y1="0" x2="0" y2="1"><stop offset="0" stop-color="#9ad4f0"/><stop offset="1" stop-color="#3a90c8"/></linearGradient><linearGradient id="gcone" x1="0" y1="0" x2="0" y2="1"><stop offset="0" stop-color="#fff4a0"/><stop offset="1" stop-color="#e0b830"/></linearGradient><linearGradient id="gq1" x1="0" y1="0" x2="0" y2="1"><stop offset="0" stop-color="#3cb83c"/><stop offset="1" stop-color="#1a8a1a"/></linearGradient><linearGradient id="gq2" x1="0" y1="0" x2="0" y2="1"><stop offset="0" stop-color="#1a4fd8"/><stop offset="1" stop-color="#3a7af0"/></linearGradient><radialGradient id="gbadge" cx="0.4" cy="0.3" r="0.8"><stop offset="0" stop-color="#f06040"/><stop offset="1" stop-color="#d01808"/></radialGradient></defs>
<g font-family='"Liberation Sans", sans-serif'>
<rect x="5" y="3" width="1" height="21" fill="#9a9a9a"/><rect x="6" y="3" width="1" height="21" fill="#fcfcfc"/>
<path d="M15.5 6.5 h8 l3.5 3.5 v9.5 h-11.5 z" fill="#fdfdfd" stroke="#7a7a7a" stroke-width="1"/><path d="M23.5 6.5 v3.5 h3.5" fill="#e0e0e0" stroke="#9a9a9a" stroke-width="0.8"/>
<rect x="17" y="9" width="3" height="1" fill="#8a8a8a"/><rect x="17" y="12" width="7" height="1" fill="#a8a8a8"/><rect x="17" y="14" width="5" height="1" fill="#a8a8a8"/>
<path d="M19.4 15.9 H23.1 V12.200000000000001 H26.9 V15.9 H30.6 V19.7 H26.9 V23.4 H23.1 V19.7 H19.4 Z" fill="url(#gplus)" stroke="#139a13" stroke-width="0.9"/>
<path d="M37.5 6.8 v1.6 M34 8.6 h5.8 M35.4 9.4 l0.7 1.3 M39.3 9.4 l-0.7 1.3 M34 11.3 h6 M34.2 13.3 h5.6 M37.4 11.3 v6.6 M37.2 13.8 l-2.8 3 M37.6 13.8 l2.3 2.4 M41.2 8.8 l3 -1 M41.6 8.6 v5.4 q0 2.6 -1.1 3.9 M41.6 11.3 h4.6 M44 11.3 v6.7" fill="none" stroke="#101010" stroke-width="1.1" stroke-linecap="butt"/>
<path d="M47.1 7.3 l1.3 1.6 M46.6 11.3 h1.9 v5.6 l1.9 -1.6 M50.5 8.4 h7.3 M54.4 8.4 v9 q0 0.6 -0.6 0.6 h-1.6" fill="none" stroke="#101010" stroke-width="1.1" stroke-linecap="butt"/>
<path d="M61.2 6.9 l0.9 1.5 M67.3 6.9 l-0.9 1.5 M59.6 9.4 h8.9 v4.3 h-8.9 z M59.6 11.6 h8.9 M64 9.4 v8.6 M58 15.6 h12" fill="none" stroke="#101010" stroke-width="1.1" stroke-linecap="butt"/>
<path d="M82 15.5 L87.5 7 L97.5 14.5 L90.8 21.5 Z" fill="url(#gbook)" stroke="#a07010" stroke-width="0.9"/>
<path d="M90.8 21.5 L97.5 14.5 L97.8 16 L91.2 22.5 Z" fill="#8a5a08"/><path d="M84 15.5 L88 9" stroke="#fff8c8" stroke-width="1"/>
<path d="M112 7.5 l2 -1.5 h9 v10 h-11 z" fill="url(#gblue)" stroke="#1050b0" stroke-width="0.8"/><path d="M112 7.5 l2 -1.5 v10 l-2 0" fill="#80c8ff"/>
<rect x="116" y="10" width="6" height="2" fill="#d8f0ff"/>
<path d="M111.5 21.5 q-1.5 -3.5 2.5 -4 q1 -3.5 5 -2.5 q3 -2.5 5.5 0.5 q2.5 0.5 1.5 3.5 q0 2.5 -2 2.5 z" fill="url(#gcloud)" stroke="#4a6a9a" stroke-width="0.9"/>
<circle cx="145.7" cy="13.6" r="7.2" fill="none" stroke="#7a9ad8" stroke-width="0.9"/><circle cx="145.7" cy="13.6" r="4.6" fill="none" stroke="#5a82d0" stroke-width="0.9"/>
<path d="M145.7 21 A7.4 7.4 0 0 0 153 13.6" fill="none" stroke="#6ab86a" stroke-width="1.5"/><circle cx="145.7" cy="13.6" r="1.7" fill="#2a5fd0"/><rect x="145.5" y="13.6" width="1.2" height="7.8" fill="#22a022"/>
<path d="M166 19.5 L165.5 12.5 L181 12.5 L180 19 L176 21.5 L171 21.5 Z" fill="url(#gcone)" stroke="#c0a020" stroke-width="0.8"/>
<ellipse cx="173" cy="11.5" rx="8" ry="2.5" fill="url(#ghat)" stroke="#2a80b8" stroke-width="0.8"/><path d="M168.5 11 q0 -5 4.5 -5 q4.5 0 4.5 5 z" fill="url(#ghat)" stroke="#2a80b8" stroke-width="0.8"/>
<circle cx="177.4" cy="17.8" r="4" fill="#d81a10" stroke="#a01008" stroke-width="0.6"/><rect x="175.9" y="16.3" width="3" height="3" fill="#fff"/>
<path d="M190.8 6.8 l-0.5 1.2 M187.4 7.9 h8.6 v9.7 h-8.6 z M187.4 10.5 h8.6 M187.4 13.5 h8.6" fill="none" stroke="#101010" stroke-width="1.1" stroke-linecap="butt"/>
<path d="M199.2 8.4 h4.7 M198.6 11.4 h5.9 M201.5 11.6 l-2.4 4.6 h4.6 M203 14.6 l0.8 1.8 M204.2 9.5 h4.4 v7.6 q0 0.5 -0.6 0.5 h-1.2 M206.6 7.2 v3.5 q0 4.5 -3.3 6.8" fill="none" stroke="#101010" stroke-width="1.1" stroke-linecap="butt"/>
<path d="M215.7 7 v1.8 M210.4 9.5 h11.2 M213.4 11.3 l-2.4 2.3 M218.1 11.3 l2.6 2.3 M212.4 13.7 l8.4 3.9 M218.4 13.7 l-8.2 3.9" fill="none" stroke="#101010" stroke-width="1.1" stroke-linecap="butt"/>
<path d="M223.8 7.3 h8.2 v4.7 h-8.2 z M223.8 9.6 h8.2 M225 12.9 l-1.8 2 M224.3 13 h8.2 v4 q0 0.6 -0.6 0.6 h-1 M226.8 13.2 l-3.2 3.5 M229.4 13.2 l-3.6 4.1 M232 13.8 l-3.5 3.8" fill="none" stroke="#101010" stroke-width="1.1" stroke-linecap="butt"/>
<rect x="241" y="1" width="1" height="25" fill="#9a9a9a"/><rect x="242" y="1" width="1" height="25" fill="#fcfcfc"/>
<rect x="245" y="4" width="3" height="1" fill="#7a7a7a"/>
<rect x="245" y="6" width="3" height="1" fill="#7a7a7a"/>
<rect x="245" y="8" width="3" height="1" fill="#7a7a7a"/>
<rect x="245" y="10" width="3" height="1" fill="#7a7a7a"/>
<rect x="245" y="12" width="3" height="1" fill="#7a7a7a"/>
<rect x="245" y="14" width="3" height="1" fill="#7a7a7a"/>
<rect x="245" y="16" width="3" height="1" fill="#7a7a7a"/>
<rect x="245" y="18" width="3" height="1" fill="#7a7a7a"/>
<rect x="245" y="20" width="3" height="1" fill="#7a7a7a"/>
<rect x="245" y="22" width="3" height="1" fill="#7a7a7a"/>
<g shape-rendering="crispEdges"><rect x="259" y="8" width="1" height="14" fill="#505050"/><rect x="257" y="19" width="14" height="1" fill="#505050"/></g><path d="M257 10.5 L259.5 7.5 L262 10.5 Z" fill="#505050"/><path d="M268.5 17 L271.5 19.5 L268.5 22 Z" fill="#505050"/>
<g shape-rendering="crispEdges" fill="#159a15"><rect x="265" y="9" width="1" height="9"/><rect x="263" y="16" width="2" height="1"/><rect x="266" y="10" width="2" height="1"/></g>
<rect x="279" y="2" width="25" height="22" fill="url(#chk)"/>
<rect x="279" y="2" width="25" height="1" fill="#a0a0a0"/><rect x="279" y="2" width="1" height="22" fill="#a0a0a0"/>
<rect x="279" y="24" width="26" height="1" fill="#ffffff"/><rect x="304" y="2" width="1" height="23" fill="#ffffff"/>
<g shape-rendering="crispEdges"><rect x="287" y="8" width="1" height="14" fill="#505050"/><rect x="285" y="19" width="14" height="1" fill="#505050"/></g><path d="M285 10.5 L287.5 7.5 L290 10.5 Z" fill="#505050"/><path d="M296.5 17 L299.5 19.5 L296.5 22 Z" fill="#505050"/>
<rect x="293" y="6" width="1" height="12" fill="#108a10" shape-rendering="crispEdges"/><rect x="291.5" y="8.5" width="4" height="7" fill="url(#gplus)" stroke="#108a10" stroke-width="1"/>
<g shape-rendering="crispEdges"><rect x="315" y="8" width="1" height="14" fill="#505050"/><rect x="313" y="19" width="14" height="1" fill="#505050"/></g><path d="M313 10.5 L315.5 7.5 L318 10.5 Z" fill="#505050"/><path d="M324.5 17 L327.5 19.5 L324.5 22 Z" fill="#505050"/>
<path d="M314 16.8 q3 -3 6 -5.3 q2 -0.5 3.5 1.8 q1 1.2 2 1.5" stroke="#3aa03a" stroke-width="1" fill="none"/>
<rect x="336" y="3" width="1" height="21" fill="#9a9a9a"/><rect x="337" y="3" width="1" height="21" fill="#fcfcfc"/>
<path d="M355.5 16.5 l4.5 4.5" stroke="#a07810" stroke-width="3.2" stroke-linecap="square"/><path d="M355.5 16.5 l4.5 4.5" stroke="#f0d860" stroke-width="1.6"/>
<circle cx="351" cy="12" r="5.6" fill="#dff0fb" stroke="#3a78c8" stroke-width="1.2"/>
<rect x="347" y="11" width="8" height="2" fill="#4a86b0"/>
<rect x="350" y="8" width="2" height="8" fill="#4a86b0"/>
<path d="M383.5 16.5 l4.5 4.5" stroke="#a07810" stroke-width="3.2" stroke-linecap="square"/><path d="M383.5 16.5 l4.5 4.5" stroke="#f0d860" stroke-width="1.6"/>
<circle cx="379" cy="12" r="5.6" fill="#dff0fb" stroke="#3a78c8" stroke-width="1.2"/>
<rect x="375" y="11" width="8" height="2" fill="#4a86b0"/>
<rect x="401" y="6" width="8" height="8" fill="url(#gq1)"/><rect x="409" y="6" width="8" height="8" fill="url(#gq2)"/><rect x="401" y="14" width="8" height="8" fill="url(#gq2)"/><rect x="409" y="14" width="8" height="8" fill="url(#gq1)"/>
<rect x="402" y="9" width="6" height="4" fill="#fff"/><rect x="403" y="10" width="4" height="1" fill="#9ad09a"/><rect x="402" y="7" width="1" height="1" fill="#fff"/>
<rect x="410" y="9" width="6" height="4" fill="#fff"/><rect x="411" y="10" width="4" height="1" fill="#9ab0f0"/><rect x="410" y="7" width="1" height="1" fill="#fff"/>
<rect x="402" y="17" width="6" height="4" fill="#fff"/><rect x="403" y="18" width="4" height="1" fill="#9ab0f0"/><rect x="402" y="15" width="1" height="1" fill="#fff"/>
<rect x="410" y="17" width="6" height="4" fill="#fff"/><rect x="411" y="18" width="4" height="1" fill="#9ad09a"/><rect x="410" y="15" width="1" height="1" fill="#fff"/>
<rect x="426" y="3" width="1" height="21" fill="#9a9a9a"/><rect x="427" y="3" width="1" height="21" fill="#fcfcfc"/>
<rect x="431" y="2" width="25" height="22" fill="url(#chk)"/>
<rect x="431" y="2" width="25" height="1" fill="#a0a0a0"/><rect x="431" y="2" width="1" height="22" fill="#a0a0a0"/>
<rect x="431" y="24" width="26" height="1" fill="#ffffff"/><rect x="456" y="2" width="1" height="23" fill="#ffffff"/>
<g shape-rendering="crispEdges"><rect x="439" y="8" width="1" height="14" fill="#505050"/><rect x="437" y="19" width="14" height="1" fill="#505050"/></g><path d="M437 10.5 L439.5 7.5 L442 10.5 Z" fill="#505050"/><path d="M448.5 17 L451.5 19.5 L448.5 22 Z" fill="#505050"/>
<path d="M444.5 10 L448.5 13.5 L444.5 17 Z" fill="#7ae07a" stroke="#15a015" stroke-width="1"/>
<rect x="459" y="2" width="25" height="22" fill="url(#chk)"/>
<rect x="459" y="2" width="25" height="1" fill="#a0a0a0"/><rect x="459" y="2" width="1" height="22" fill="#a0a0a0"/>
<rect x="459" y="24" width="26" height="1" fill="#ffffff"/><rect x="484" y="2" width="1" height="23" fill="#ffffff"/>
<g shape-rendering="crispEdges"><rect x="467" y="8" width="1" height="14" fill="#505050"/><rect x="465" y="19" width="14" height="1" fill="#505050"/></g><path d="M465 10.5 L467.5 7.5 L470 10.5 Z" fill="#505050"/><path d="M476.5 17 L479.5 19.5 L476.5 22 Z" fill="#505050"/>
<rect x="473" y="8" width="1" height="10" fill="#1a6aaa" shape-rendering="crispEdges"/><path d="M479.5 13.5 h-4.5 M476.5 11 l-2 2.5 l2 2.5" stroke="#e04a10" stroke-width="1.3" fill="none"/>
<rect x="488" y="3" width="1" height="21" fill="#9a9a9a"/><rect x="489" y="3" width="1" height="21" fill="#fcfcfc"/>
<path d="M498.5 6.5 h8 l3.5 3.5 v9.5 h-11.5 z" fill="#fdfdfd" stroke="#7a7a7a" stroke-width="1"/><path d="M506.5 6.5 v3.5 h3.5" fill="#e0e0e0" stroke="#9a9a9a" stroke-width="0.8"/>
<path d="M501.5 9.5 q-1 0 -1 1.5 v5 q0 1.5 1 1.5" stroke="#4a4a3a" stroke-width="0.9" fill="none"/>
<path d="M502.2 16.1 H506.1 V12.2 H509.9 V16.1 H513.8 V19.9 H509.9 V23.8 H506.1 V19.9 H502.2 Z" fill="url(#gplus)" stroke="#139a13" stroke-width="0.9"/>
<path d="M520 13 L525.5 13 L522.75 16 Z" fill="#000"/>
<circle cx="544" cy="13.8" r="7.3" fill="#fff" stroke="#1a62c8" stroke-width="2"/><circle cx="544" cy="13.8" r="8.3" fill="none" stroke="#0a3a90" stroke-width="0.6"/>
<path d="M543.5 9.5 v4.5 h3" stroke="#222" stroke-width="1.1" fill="none"/>
<path d="M559 13 L564.5 13 L561.75 16 Z" fill="#000"/>
<rect x="575.5" y="7.5" width="15" height="13" fill="#fff" stroke="#3a70c0"/><rect x="576" y="8" width="14" height="1.5" fill="#5a90d8"/><rect x="576" y="14" width="14" height="1" fill="#7aa0d8"/>
<path d="M577 13 l2.5 -1 l2 0.5 l2.5 -1.5 l2 1 l2.5 -1" stroke="#a02818" stroke-width="1" fill="none"/><path d="M577 18.5 l2.5 -1 l2 0.5 l2.5 -1.5 l2 1.5 l2.5 -1" stroke="#20a030" stroke-width="1" fill="none"/>
<path d="M598 13 L603.5 13 L600.75 16 Z" fill="#000"/>
<rect x="609" y="1" width="1" height="25" fill="#9a9a9a"/><rect x="610" y="1" width="1" height="25" fill="#fcfcfc"/>
<rect x="613" y="4" width="3" height="1" fill="#7a7a7a"/>
<rect x="613" y="6" width="3" height="1" fill="#7a7a7a"/>
<rect x="613" y="8" width="3" height="1" fill="#7a7a7a"/>
<rect x="613" y="10" width="3" height="1" fill="#7a7a7a"/>
<rect x="613" y="12" width="3" height="1" fill="#7a7a7a"/>
<rect x="613" y="14" width="3" height="1" fill="#7a7a7a"/>
<rect x="613" y="16" width="3" height="1" fill="#7a7a7a"/>
<rect x="613" y="18" width="3" height="1" fill="#7a7a7a"/>
<rect x="613" y="20" width="3" height="1" fill="#7a7a7a"/>
<rect x="613" y="22" width="3" height="1" fill="#7a7a7a"/>
<rect x="619" y="2" width="25" height="22" fill="url(#chk)"/>
<rect x="619" y="2" width="25" height="1" fill="#a0a0a0"/><rect x="619" y="2" width="1" height="22" fill="#a0a0a0"/>
<rect x="619" y="24" width="26" height="1" fill="#ffffff"/><rect x="644" y="2" width="1" height="23" fill="#ffffff"/>
<path d="M627 7 L627 18 L629.8 15.8 L632.3 21 L634.3 20 L632 15 L635.5 14.8 Z" fill="#454545"/>
<g shape-rendering="crispEdges" fill="#454545"><rect x="659" y="7" width="1" height="6"/><rect x="659" y="16" width="1" height="6"/><rect x="652" y="14" width="6" height="1"/><rect x="661" y="14" width="6" height="1"/></g>
<rect x="676" y="3" width="1" height="21" fill="#9a9a9a"/><rect x="677" y="3" width="1" height="21" fill="#fcfcfc"/>
<rect x="693" y="8" width="1.6" height="13" fill="#454545"/>
<rect x="716" y="14" width="12" height="1.6" fill="#454545"/>
<path d="M744 20.5 L756 8.8" stroke="#454545" stroke-width="1.1"/>
<path d="M770 15.5 L777.5 8 M772 20.5 L784 12.5 M781.5 6 v7 M772.5 13.5 l1.5 4 M776 11.5 l1.5 4 M779 10 l1.5 4" stroke="#454545" stroke-width="1" fill="none"/>
<text x="780.5" y="23" font-size="7" fill="#333" stroke="#333" stroke-width="0" font-weight="bold">E</text>
<line x1="799" y1="7.5" x2="812" y2="7.5" stroke="#454545" stroke-dasharray="1 1" shape-rendering="crispEdges"/>
<line x1="799" y1="10.5" x2="812" y2="10.5" stroke="#454545" stroke-dasharray="1 1" shape-rendering="crispEdges"/>
<line x1="799" y1="14.5" x2="812" y2="14.5" stroke="#454545" stroke-dasharray="1 1" shape-rendering="crispEdges"/>
<line x1="799" y1="18.5" x2="808" y2="18.5" stroke="#454545" stroke-dasharray="1 1" shape-rendering="crispEdges"/>
<text x="808.5" y="23" font-size="7" fill="#333" stroke="#333" stroke-width="0" font-weight="bold">F</text>
<path d="M830 19 L833.5 10 L837.5 19 M831.3 16 h5" stroke="#505050" stroke-width="1.3" fill="none"/>
<rect x="856.5" y="8.5" width="11" height="12" fill="none" stroke="#505050" stroke-dasharray="1 1" shape-rendering="crispEdges"/><rect x="855" y="7" width="2" height="1" fill="#505050"/>
<path d="M858.5 11.5 h7.5 M862.2 11.5 v7.5" stroke="#505050" stroke-width="1.5" fill="none"/>
<path d="M883 12 L886.5 8 L890 12 Z M890 17 L893.5 21 L897 17 Z" fill="#505050"/><path d="M885.5 15 l2 2 l4.2 -4.8" stroke="#505050" stroke-width="1.3" fill="none"/>
<path d="M904 13 L909.5 13 L906.75 16 Z" fill="#000"/>
<rect x="915" y="1" width="1" height="25" fill="#9a9a9a"/><rect x="916" y="1" width="1" height="25" fill="#fcfcfc"/>
<rect x="919" y="4" width="3" height="1" fill="#7a7a7a"/>
<rect x="919" y="6" width="3" height="1" fill="#7a7a7a"/>
<rect x="919" y="8" width="3" height="1" fill="#7a7a7a"/>
<rect x="919" y="10" width="3" height="1" fill="#7a7a7a"/>
<rect x="919" y="12" width="3" height="1" fill="#7a7a7a"/>
<rect x="919" y="14" width="3" height="1" fill="#7a7a7a"/>
<rect x="919" y="16" width="3" height="1" fill="#7a7a7a"/>
<rect x="919" y="18" width="3" height="1" fill="#7a7a7a"/>
<rect x="919" y="20" width="3" height="1" fill="#7a7a7a"/>
<rect x="919" y="22" width="3" height="1" fill="#7a7a7a"/>
<rect x="1065" y="2" width="24" height="22" fill="url(#chk)"/>
<rect x="1065" y="2" width="24" height="1" fill="#a0a0a0"/><rect x="1065" y="2" width="1" height="22" fill="#a0a0a0"/>
<rect x="1065" y="24" width="25" height="1" fill="#ffffff"/><rect x="1089" y="2" width="1" height="23" fill="#ffffff"/>
<text x="930.5" y="18" font-size="10.25" fill="#333333" stroke="#333333" stroke-width="0" textLength="12.5" lengthAdjust="spacingAndGlyphs" text-rendering="geometricPrecision">M1</text>
<text x="958.5" y="18" font-size="10.25" fill="#333333" stroke="#333333" stroke-width="0" textLength="13" lengthAdjust="spacingAndGlyphs" text-rendering="geometricPrecision">M5</text>
<text x="984.5" y="18" font-size="10.25" fill="#333333" stroke="#333333" stroke-width="0" textLength="17.5" lengthAdjust="spacingAndGlyphs" text-rendering="geometricPrecision">M15</text>
<text x="1012.5" y="18" font-size="10.25" fill="#333333" stroke="#333333" stroke-width="0" textLength="17.5" lengthAdjust="spacingAndGlyphs" text-rendering="geometricPrecision">M30</text>
<text x="1043.5" y="18" font-size="10.25" fill="#333333" stroke="#333333" stroke-width="0" textLength="11.5" lengthAdjust="spacingAndGlyphs" text-rendering="geometricPrecision">H1</text>
<text x="1070" y="18" font-size="10.25" fill="#333333" stroke="#333333" stroke-width="0" textLength="11" lengthAdjust="spacingAndGlyphs" text-rendering="geometricPrecision">H4</text>
<text x="1099" y="18" font-size="10.25" fill="#333333" stroke="#333333" stroke-width="0" textLength="12" lengthAdjust="spacingAndGlyphs" text-rendering="geometricPrecision">D1</text>
<text x="1127" y="18" font-size="10.25" fill="#333333" stroke="#333333" stroke-width="0" textLength="14" lengthAdjust="spacingAndGlyphs" text-rendering="geometricPrecision">W1</text>
<text x="1153" y="18" font-size="10.25" fill="#333333" stroke="#333333" stroke-width="0" textLength="15" lengthAdjust="spacingAndGlyphs" text-rendering="geometricPrecision">MN</text>
<rect x="1176" y="1" width="1" height="25" fill="#9a9a9a"/><rect x="1177" y="1" width="1" height="25" fill="#fcfcfc"/>
<circle cx="1646.4" cy="11.3" r="3.8" fill="#fafcff" stroke="#1a5fd0" stroke-width="1.3"/><path d="M1643.8 14 L1639.5 18.5" stroke="#1a5fd0" stroke-width="2.2" stroke-linecap="round"/>
<ellipse cx="1669" cy="15.8" rx="5.8" ry="4.5" fill="url(#gcloud)" stroke="#a0a0a0" stroke-width="0.8"/><path d="M1666.5 19.5 L1665.5 22.5 L1669 20.3" fill="#d8d8e0" stroke="#909090" stroke-width="0.6"/>
<circle cx="1677.4" cy="11.5" r="8" fill="url(#gbadge)"/>
<text x="1677.5" y="16" font-size="11" fill="#fff" text-anchor="middle" font-weight="bold" font-family='"Liberation Serif", serif'>1</text>
</g></svg>
</body></html>
